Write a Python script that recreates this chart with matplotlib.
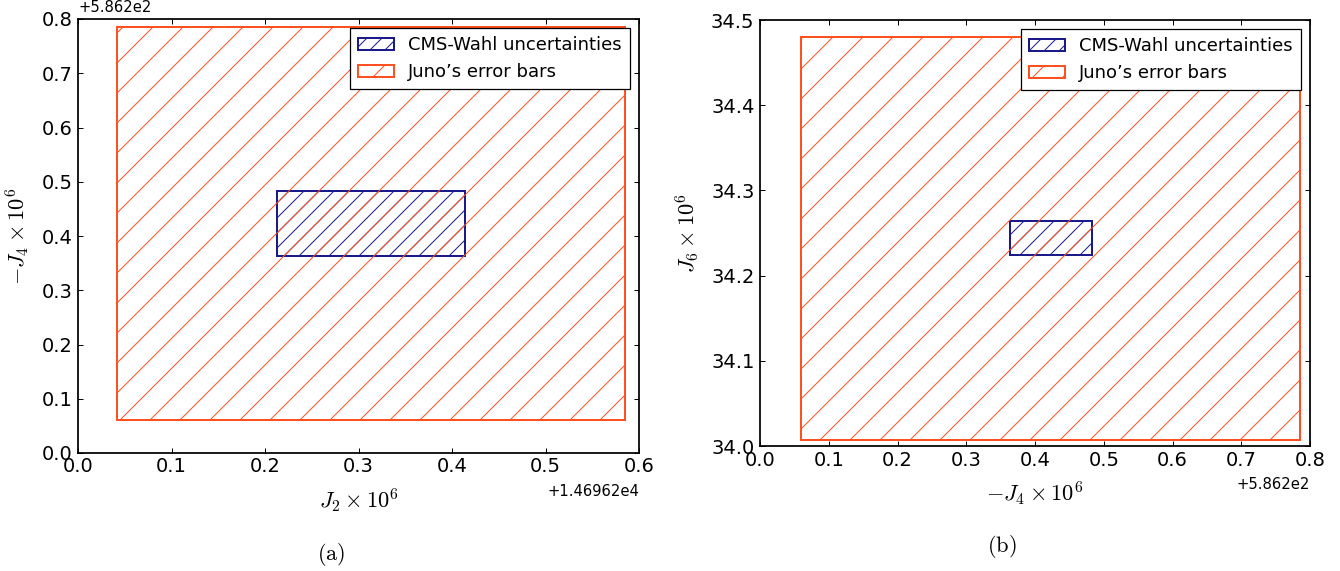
import matplotlib
matplotlib.use("Agg")
import matplotlib.pyplot as plt
from matplotlib.patches import Rectangle
from matplotlib.ticker import ScalarFormatter

# ---- data (bounds of the uncertainty boxes, in units of 1e-6) ----
juno_J2 = [14696.242, 14696.785]
juno_mJ4 = [586.260, 586.985]
juno_J6 = [34.0075, 34.4797]

cms_J2 = [14696.413, 14696.614]
cms_mJ4 = [586.5634, 586.6830]
cms_J6 = [34.2242, 34.2645]

labels = ["CMS-Wahl uncertainties", "Juno\u2019s error bars"]

# axis limits / ticks
a_xlim = [14696.2, 14696.8]
a_xticks = [14696.2, 14696.3, 14696.4, 14696.5, 14696.6, 14696.7, 14696.8]
a_ylim = [586.2, 587.0]
a_yticks = [586.2, 586.3, 586.4, 586.5, 586.6, 586.7, 586.8, 586.9, 587.0]
b_xlim = [586.2, 587.0]
b_xticks = a_yticks
b_ylim = [34.0, 34.5]
b_yticks = [34.0, 34.1, 34.2, 34.3, 34.4, 34.5]

DPI = 180
plt.rcParams['mathtext.fontset'] = 'cm'
plt.rcParams['font.family'] = 'DejaVu Sans'
plt.rcParams['hatch.linewidth'] = 0.4

ORANGE = '#ff5020'
BLUE = '#1a1a8a'

fig = plt.figure(figsize=(1340 / DPI, 571 / DPI), dpi=DPI)
ax1 = fig.add_axes([78 / 1340, 1 - 453 / 571, 561 / 1340, 434 / 571])
ax2 = fig.add_axes([760 / 1340, 1 - 446 / 571, 550 / 1340, 426 / 571])


def draw(ax, cx, cy, jx, jy):
    c = Rectangle((cx[0], cy[0]), cx[1] - cx[0], cy[1] - cy[0], fill=False,
                  edgecolor=BLUE, hatch='////', lw=0.8, label=labels[0])
    j = Rectangle((jx[0], jy[0]), jx[1] - jx[0], jy[1] - jy[0], fill=False,
                  edgecolor=ORANGE, hatch='//', lw=0.8, label=labels[1])
    ax.add_patch(c)
    ax.add_patch(j)
    leg = ax.legend(loc='upper right', fontsize=7.2, fancybox=False,
                    framealpha=1, edgecolor='black', borderpad=0.45,
                    handlelength=2.0, handletextpad=0.8, borderaxespad=0.5)
    leg.get_frame().set_linewidth(0.5)


draw(ax1, cms_J2, cms_mJ4, juno_J2, juno_mJ4)
draw(ax2, cms_mJ4, cms_J6, juno_mJ4, juno_J6)

ax1.set_xlim(a_xlim)
ax1.set_ylim(a_ylim)
ax1.set_xticks(a_xticks)
ax1.set_yticks(a_yticks)
ax1.xaxis.set_major_formatter(ScalarFormatter(useOffset=14696.2))
ax1.yaxis.set_major_formatter(ScalarFormatter(useOffset=586.2))

ax2.set_xlim(b_xlim)
ax2.set_ylim(b_ylim)
ax2.set_xticks(b_xticks)
ax2.set_yticks(b_yticks)
ax2.xaxis.set_major_formatter(ScalarFormatter(useOffset=586.2))
ax2.yaxis.set_major_formatter(ScalarFormatter(useOffset=False))

for ax in (ax1, ax2):
    ax.tick_params(direction='in', top=True, right=True, length=2.0,
                   width=0.4, labelsize=7.8)
    ax.tick_params(axis='x', pad=1.8)
    ax.tick_params(axis='y', pad=2.2)
    for s in ax.spines.values():
        s.set_linewidth(0.7)
    ax.xaxis.get_offset_text().set_fontsize(5.9)
    ax.yaxis.get_offset_text().set_fontsize(5.9)

ax1.set_xlabel(r'$J_2\times10^6$', fontsize=9)
ax1.set_ylabel(r'$-J_4\times10^6$', fontsize=9)
ax2.set_xlabel(r'$-J_4\times10^6$', fontsize=9)
ax2.set_ylabel(r'$J_6\times10^6$', fontsize=9)

fig.text(331 / 1340, 1 - 554 / 571, r'$(\mathrm{a})$', fontsize=9,
         ha='center', va='center')
fig.text(1001.5 / 1340, 1 - 547 / 571, r'$(\mathrm{b})$', fontsize=9,
         ha='center', va='center')

fig.savefig('out.png', dpi=DPI)
